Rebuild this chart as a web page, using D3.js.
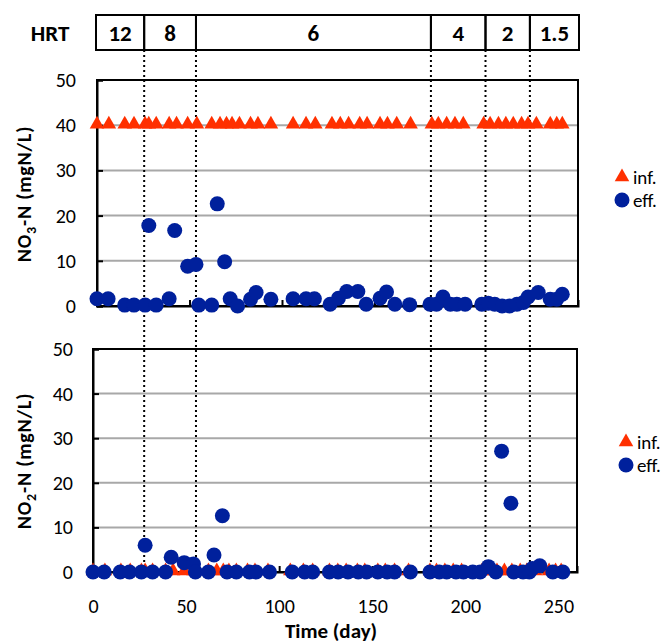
<!DOCTYPE html>
<html><head><meta charset="utf-8">
<script src="https://cdn.jsdelivr.net/npm/d3@7"></script>
<style>
body{margin:0;background:#fff;}
text{font-family:Carlito,Lato,"Open Sans",sans-serif;}
</style></head>
<body><svg id="c" width="665" height="643"></svg>
<script>
// ---- data ----
const hrtLabels = ["12","8","6","4","2","1.5"];
const hrtBounds = [0, 25.5, 53.5, 180.5, 210, 234, 260];
const yTicks = [0,10,20,30,40,50];
const xTicks = [0,50,100,150,200,250];

const infDays = [0,6.4,15,20,26,28,32,39,43,49,54,62,66.5,70,73,77,83,87,94,106,113,118,127,131.5,136,142,146,153,157,162,169.5,181,184.5,189,193.5,198,209,212.5,217,221,225,229.5,233,237.5,245,248.5,251.5];
const no3Inf = [40,40,40,40,40,40,40,40,40,40,40,40,40,40,40,40,40,40,40,40,40,40,40,40,40,40,40,40,40,40,40,40,40,40,40,40,40,40,40,40,40,40,40,40,40,40,40];
const no2Inf = [0,0,0,0,0,0,0,0,0,0,0,0,0,0,0,0,0,0,0,0,0,0,0,0,0,0,0,0,0,0,0,0,0,0,0,0,0,0,0,0,0,0,0,0,0,0,0];

const no3EffDays = [0,6,15,20,26,28,32,39,42,49,53.5,55,62,65,69,72,76,83,86,94,106,113,117.5,126,130.5,135,141,145.5,153,156.5,161,169,180,183.5,187,191,194.5,199,208,211.5,215,219,223,227,230.5,233,238.5,245,248.5,251.5];
const no3Eff = [1.6,1.6,0.2,0.2,0.2,17.8,0.2,1.6,16.7,8.8,9.2,0.2,0.2,22.6,9.8,1.6,0,1.5,3.0,1.5,1.6,1.6,1.6,0.4,1.7,3.2,3.2,0.4,1.7,3.1,0.4,0.3,0.4,0.4,2.0,0.4,0.4,0.4,0.4,0.6,0.4,0,0,0.4,0.8,2.0,3.0,1.5,1.5,2.6];

const no2EffDays = [0,6,14.6,19.6,26,28,32,39,42,49,54,55,62,65,69.5,72,77,84,87.6,94.8,107,113.7,118,127,131.7,137,142.5,147,153,158,162,170.5,181,186,190,195,199,204,208,212.4,216.4,219.5,224.5,226,231,234.4,236,240,247,252.4];
const no2Eff = [0,0,0,0,0,6.0,0,0,3.3,2.1,1.8,0,0,3.8,12.6,0,0,0,0,0,0,0,0,0,0,0,0,0,0,0,0,0,0,0,0,0,0,0,0,1.2,0,27.1,15.4,0,0,0,0.8,1.4,0,0];

// ---- layout ----
const svg = d3.select("#c");
const RED = "#ff3000", BLUE = "#00209c";
const panels = [
  {x0:97, x1:578, yTop:80, yBot:306, inf:no3Inf, effD:no3EffDays, eff:no3Eff, lx:76, title:"3", tY:194, legX:622, legY:177},
  {x0:93, x1:577, yTop:349, yBot:572, inf:no2Inf, effD:no2EffDays, eff:no2Eff, lx:73, title:"2", tY:461, legX:626, legY:442}
];
const tri = d3.symbol().type(d3.symbolTriangle).size(92);

panels.forEach((p, i) => {
  const x = d3.scaleLinear().domain([0,260]).range([p.x0, p.x1]);
  const y = d3.scaleLinear().domain([0,50]).range([p.yBot, p.yTop]);
  p.x = x; p.y = y;
  const g = svg.append("g");
  g.selectAll("line.grid").data(yTicks.filter(t => t>0 && t<50)).join("line")
    .attr("x1", p.x0).attr("x2", p.x1).attr("y1", d=>y(d)).attr("y2", d=>y(d))
    .attr("stroke", "#a8a8a8").attr("stroke-width", 2);
  g.append("rect").attr("x", p.x0).attr("y", p.yTop).attr("width", p.x1-p.x0).attr("height", p.yBot-p.yTop)
    .attr("fill","none").attr("stroke","#000").attr("stroke-width",2);
  const ya = g.append("g").attr("transform", `translate(${p.x0},0)`)
    .call(d3.axisLeft(y).tickValues(yTicks).tickSize(-6).tickPadding(p.x0 - p.lx));
  ya.select(".domain").attr("stroke-width",2);
  ya.selectAll(".tick line").attr("stroke-width",2);
  ya.selectAll("text").attr("font-size",20).attr("fill","#000");
  const xa = g.append("g").attr("transform", `translate(0,${p.yBot})`)
    .call(d3.axisBottom(x).tickValues(xTicks).tickSize(-6).tickPadding(27));
  xa.select(".domain").attr("stroke-width",2);
  xa.selectAll(".tick line").attr("stroke-width",2);
  xa.selectAll("text").attr("font-size",20).attr("fill","#000");
  if (i === 0) xa.selectAll("text").remove();
  const t = g.append("text").attr("transform", `translate(31,${p.tY}) rotate(-90)`)
    .attr("text-anchor","middle").attr("font-size",20).attr("font-weight","bold").attr("letter-spacing",0.8);
  t.append("tspan").text("NO");
  t.append("tspan").text(p.title).attr("font-size",14).attr("dy",5);
  t.append("tspan").text("-N (mgN/L)").attr("dy",-5);
  g.append("path").attr("d", tri).attr("fill", RED).attr("transform", `translate(${p.legX},${p.legY})`);
  g.append("text").attr("x", p.legX+11).attr("y", p.legY+7).attr("font-size",19).text("inf.");
  g.append("circle").attr("cx", p.legX).attr("cy", p.legY+23).attr("r",7.5).attr("fill",BLUE);
  g.append("text").attr("x", p.legX+11).attr("y", p.legY+30).attr("font-size",19).text("eff.");
});

const xs = panels[0].x;
svg.selectAll("line.hrt").data(hrtBounds.slice(1,-1)).join("line")
  .attr("x1", d=>xs(d)).attr("x2", d=>xs(d)).attr("y1", 50).attr("y2", 572)
  .attr("stroke","#000").attr("stroke-width",2).attr("stroke-dasharray","2,3");

panels.forEach(p => {
  const g = svg.append("g");
  g.selectAll("path").data(infDays.map((d,k)=>[d,p.inf[k]])).join("path")
    .attr("d", tri).attr("fill", RED)
    .attr("transform", d=>`translate(${p.x(d[0])},${p.y(d[1])-1})`);
  g.selectAll("circle").data(p.effD.map((d,k)=>[d,p.eff[k]])).join("circle")
    .attr("cx", d=>p.x(d[0])).attr("cy", d=>p.y(d[1])).attr("r", 7.5).attr("fill", BLUE);
});

const hb = svg.append("g");
hb.append("text").attr("x",50).attr("y",41).attr("text-anchor","middle").attr("font-size",23).attr("font-weight","bold").text("HRT");
const segs = hrtLabels.map((l,k)=>({l, a:hrtBounds[k], b:hrtBounds[k+1]}));
const sx = d => d===0 ? 96 : (d===260 ? 579 : xs(d));
hb.selectAll("rect").data(segs).join("rect")
  .attr("x", d=> sx(d.a)).attr("y",15)
  .attr("width", d=> sx(d.b) - sx(d.a)).attr("height",35)
  .attr("fill","none").attr("stroke","#000").attr("stroke-width",2);
hb.selectAll("text.s").data(segs).join("text")
  .attr("x", d=> (sx(d.a) + sx(d.b))/2)
  .attr("y",41).attr("text-anchor","middle").attr("font-size",23).attr("font-weight","bold").text(d=>d.l);

svg.append("text").attr("x",331).attr("y",638).attr("text-anchor","middle").attr("font-size",21).attr("font-weight","bold").text("Time (day)");
</script></body></html>
